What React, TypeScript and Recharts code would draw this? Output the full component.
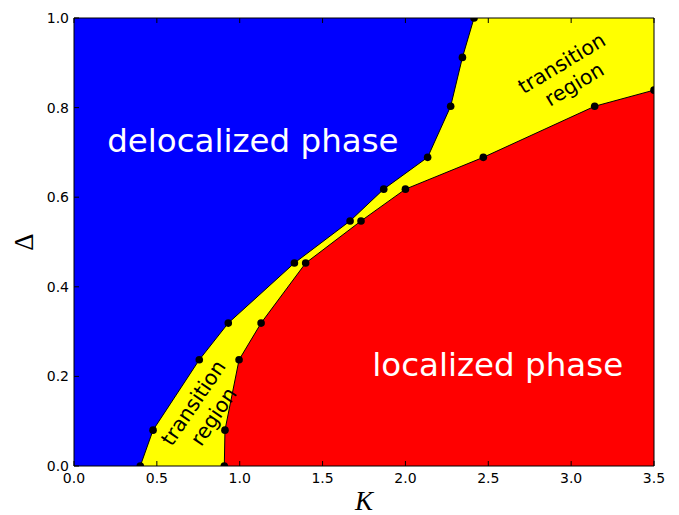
import { Area, CartesianGrid, ComposedChart, Line, ReferenceDot, XAxis, YAxis } from "recharts"

// boundary between delocalized phase and transition region
const leftK = [0.4, 0.477, 0.756, 0.931, 1.33, 1.666, 1.869, 2.134, 2.273, 2.344, 2.414]
const leftDelta = [0.0, 0.08, 0.237, 0.319, 0.453, 0.547, 0.618, 0.689, 0.803, 0.912, 1.0]

// boundary between transition region and localized phase
const rightK = [0.907, 0.911, 0.996, 1.129, 1.398, 1.732, 2.0, 2.47, 3.142, 3.5]
const rightDelta = [0.0, 0.08, 0.237, 0.319, 0.453, 0.547, 0.618, 0.689, 0.803, 0.839]

// upper right corner that closes the yellow region
const cornerK = 3.5
const cornerDelta = 1.0

const kTicks = [0, 0.5, 1, 1.5, 2, 2.5, 3, 3.5]
const deltaTicks = [0, 0.2, 0.4, 0.6, 0.8, 1.0]

const rows = new Map<number, any>()
const put = (k: number, key: string, v: number) => {
  const r = rows.get(k) ?? { K: k }
  r[key] = v
  rows.set(k, r)
}
leftK.forEach((k, i) => {
  put(k, "left", leftDelta[i])
  put(k, "yellow", leftDelta[i])
})
put(cornerK, "yellow", cornerDelta)
rightK.forEach((k, i) => put(k, "right", rightDelta[i]))
const data = [...rows.values()].sort((a, b) => a.K - b.K)

const tickText = { fontFamily: "DejaVu Sans", fontSize: 14, fill: "#000" }
const TICK = 5

const BottomTick = ({ x, y, payload }: any) => (
  <g>
    <line x1={x} x2={x} y1={y} y2={y - TICK} stroke="#000" />
    <text x={x} y={y + 17} textAnchor="middle" {...tickText}>
      {Number(payload.value).toFixed(1)}
    </text>
  </g>
)

const LeftTick = ({ x, y, payload }: any) => (
  <g>
    <line x1={x} x2={x + TICK} y1={y} y2={y} stroke="#000" />
    <text x={x - 5} y={y + 5} textAnchor="end" {...tickText}>
      {Number(payload.value).toFixed(1)}
    </text>
  </g>
)

const TopTick = ({ x, y }: any) => <line x1={x} x2={x} y1={y} y2={y + TICK} stroke="#000" />
const RightTick = ({ x, y }: any) => <line x1={x} x2={x - TICK} y1={y} y2={y} stroke="#000" />

const phaseLabel = (text: string) => ({ viewBox }: any) => (
  <text
    x={viewBox.x + viewBox.width / 2}
    y={viewBox.y + viewBox.height / 2}
    fill="#fff"
    fontFamily="DejaVu Sans"
    fontSize={32.5}
  >
    {text}
  </text>
)

const transitionLabel = (angle: number) => ({ viewBox }: any) => {
  const cx = viewBox.x + viewBox.width / 2
  const cy = viewBox.y + viewBox.height / 2
  return (
    <g transform={`translate(${cx},${cy}) rotate(${angle})`}>
      <text textAnchor="middle" fontFamily="DejaVu Sans" fontSize={20.5} fill="#000">
        <tspan x={0} y={-5}>transition</tspan>
        <tspan x={0} y={19.5}>region</tspan>
      </text>
    </g>
  )
}

export default function App() {
  return (
    <div style={{ position: "absolute", left: 0, top: 0, fontFamily: "DejaVu Sans" }}>
      <ComposedChart width={679} height={515} data={data} margin={{ top: 17, right: 24, bottom: 0, left: 0 }}>
        <CartesianGrid xAxisId="k" yAxisId="d" horizontal={false} vertical={false} fill="#0000ff" fillOpacity={1} />
        <XAxis
          xAxisId="k"
          dataKey="K"
          type="number"
          domain={[0, 3.5]}
          ticks={kTicks}
          interval={0}
          allowDataOverflow
          height={49}
          tickSize={0}
          tickMargin={0}
          tickLine={false}
          axisLine={{ stroke: "#000" }}
          tick={(p: any) => <BottomTick {...p} />}
          label={({ viewBox }: any) => (
            <text
              x={viewBox.x + viewBox.width / 2}
              y={viewBox.y + 44}
              textAnchor="middle"
              fontFamily="Liberation Serif"
              fontStyle="italic"
              fontSize={27}
              fill="#000"
            >
              K
            </text>
          )}
        />
        <XAxis
          xAxisId="top"
          orientation="top"
          dataKey="K"
          type="number"
          domain={[0, 3.5]}
          ticks={kTicks}
          interval={0}
          height={1}
          tickSize={0}
          tickMargin={0}
          tickLine={false}
          axisLine={{ stroke: "#000" }}
          tick={(p: any) => <TopTick {...p} />}
        />
        <YAxis
          yAxisId="d"
          type="number"
          domain={[0, 1]}
          ticks={deltaTicks}
          interval={0}
          allowDataOverflow
          width={74}
          tickSize={0}
          tickMargin={0}
          tickLine={false}
          axisLine={{ stroke: "#000" }}
          tick={(p: any) => <LeftTick {...p} />}
          label={({ viewBox }: any) => (
            <g transform={`translate(23.5,${viewBox.y + viewBox.height / 2}) rotate(-90)`}>
              <text y={9} textAnchor="middle" fontFamily="Liberation Serif" fontSize={27} fill="#000">
                Δ
              </text>
            </g>
          )}
        />
        <YAxis
          yAxisId="right"
          orientation="right"
          type="number"
          domain={[0, 1]}
          ticks={deltaTicks}
          interval={0}
          width={1}
          tickSize={0}
          tickMargin={0}
          tickLine={false}
          axisLine={{ stroke: "#000" }}
          tick={(p: any) => <RightTick {...p} />}
        />
        <Area
          xAxisId="k"
          yAxisId="d"
          type="linear"
          dataKey="yellow"
          connectNulls
          fill="#ffff00"
          fillOpacity={1}
          stroke="none"
          isAnimationActive={false}
        />
        <Area
          xAxisId="k"
          yAxisId="d"
          type="linear"
          dataKey="right"
          connectNulls
          fill="#ff0000"
          fillOpacity={1}
          stroke="none"
          isAnimationActive={false}
        />
        <Line
          xAxisId="k"
          yAxisId="d"
          type="linear"
          dataKey="left"
          connectNulls
          stroke="#000"
          strokeWidth={1}
          dot={{ r: 3.8, fill: "#000", stroke: "none" }}
          activeDot={false}
          isAnimationActive={false}
        />
        <Line
          xAxisId="k"
          yAxisId="d"
          type="linear"
          dataKey="right"
          connectNulls
          stroke="#000"
          strokeWidth={1}
          dot={{ r: 3.8, fill: "#000", stroke: "none" }}
          activeDot={false}
          isAnimationActive={false}
        />
        <ReferenceDot xAxisId="k" yAxisId="d" x={0.2} y={0.7} r={1} fill="none" stroke="none" label={phaseLabel("delocalized phase")} />
        <ReferenceDot xAxisId="k" yAxisId="d" x={1.8} y={0.2} r={1} fill="none" stroke="none" label={phaseLabel("localized phase")} />
        <ReferenceDot xAxisId="k" yAxisId="d" x={0.78} y={0.126} r={1} fill="none" stroke="none" label={transitionLabel(-56)} />
        <ReferenceDot xAxisId="k" yAxisId="d" x={2.98} y={0.876} r={1} fill="none" stroke="none" label={transitionLabel(-31)} />
      </ComposedChart>
    </div>
  )
}
